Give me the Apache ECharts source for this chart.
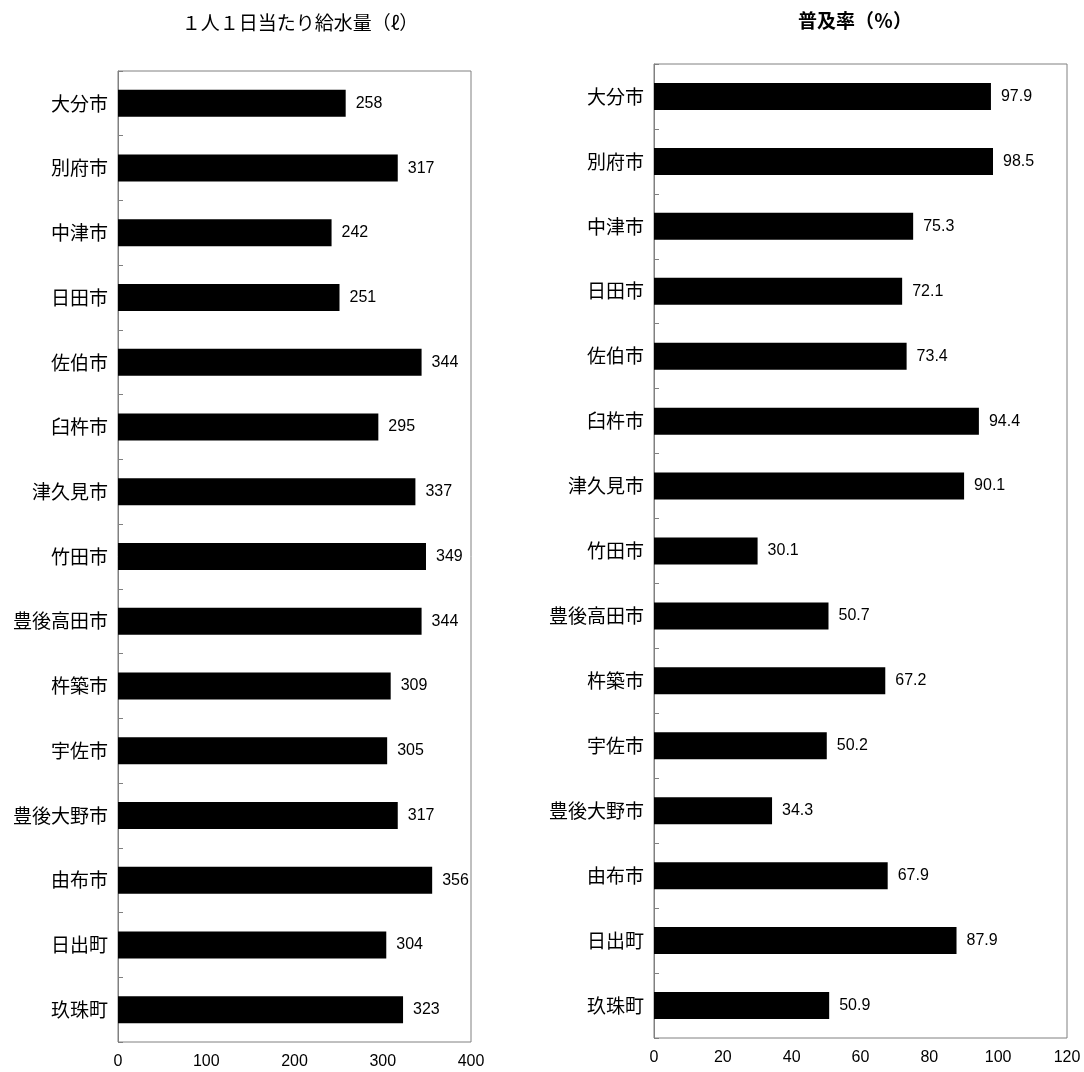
<!DOCTYPE html>
<html>
<head>
<meta charset="utf-8">
<script src="https://cdn.jsdelivr.net/npm/echarts@6/dist/echarts.min.js"></script>
<style>
html,body{margin:0;padding:0;background:#fff;}
#c{width:1084px;height:1072px;}
</style>
</head>
<body>
<div id="c"></div>
<script>
const categories = ['大分市','別府市','中津市','日田市','佐伯市','臼杵市','津久見市','竹田市','豊後高田市','杵築市','宇佐市','豊後大野市','由布市','日出町','玖珠町'];
const supplyPerDay = [258,317,242,251,344,295,337,349,344,309,305,317,356,304,323];
const coverageRate = [97.9,98.5,75.3,72.1,73.4,94.4,90.1,30.1,50.7,67.2,50.2,34.3,67.9,87.9,50.9];
const leftTitle = '１人１日当たり給水量（ℓ）';
const rightTitle = '普及率（％）';

const cjk = '"Noto Sans CJK JP", "Noto Sans", sans-serif';
const num = '"Liberation Sans", Arial, sans-serif';

function yAx(gi){
  return {
    type:'category', gridIndex:gi, data:categories, inverse:true,
    axisLine:{show:true, lineStyle:{color:'#808080', width:1}},
    axisTick:{show:true, inside:true, length:5, alignWithLabel:false, lineStyle:{color:'#808080'}},
    axisLabel:{color:'#000', fontSize:19, fontFamily:cjk, margin:10}
  };
}
function xAx(gi, max, interval){
  return {
    type:'value', gridIndex:gi, min:0, max:max, interval:interval,
    splitLine:{show:false}, axisLine:{show:false}, axisTick:{show:false},
    axisLabel:{color:'#000', fontSize:16, fontFamily:num, margin:12}
  };
}
function barSeries(gi, data){
  return {
    type:'bar', xAxisIndex:gi, yAxisIndex:gi, data:data, barWidth:27,
    itemStyle:{color:'#000'},
    label:{show:true, position:'right', distance:10, color:'#000', fontSize:16, fontFamily:num},
    animation:false
  };
}

const chart = echarts.init(document.getElementById('c'));
chart.setOption({
  backgroundColor:'#fff',
  animation:false,
  title:[
    {text:leftTitle, left:295, top:8, textAlign:'center', textStyle:{fontSize:19, fontWeight:'normal', color:'#000', fontFamily:cjk}},
    {text:rightTitle, left:850, top:6, textAlign:'center', textStyle:{fontSize:19, fontWeight:'bold', color:'#000', fontFamily:cjk}}
  ],
  grid:[
    {left:118, top:71, width:353, height:971, show:true, borderColor:'#808080', borderWidth:1, backgroundColor:'transparent'},
    {left:654, top:64, width:413, height:974, show:true, borderColor:'#808080', borderWidth:1, backgroundColor:'transparent'}
  ],
  xAxis:[xAx(0,400,100), xAx(1,120,20)],
  yAxis:[yAx(0), yAx(1)],
  series:[barSeries(0, supplyPerDay), barSeries(1, coverageRate)]
});
</script>
</body>
</html>
